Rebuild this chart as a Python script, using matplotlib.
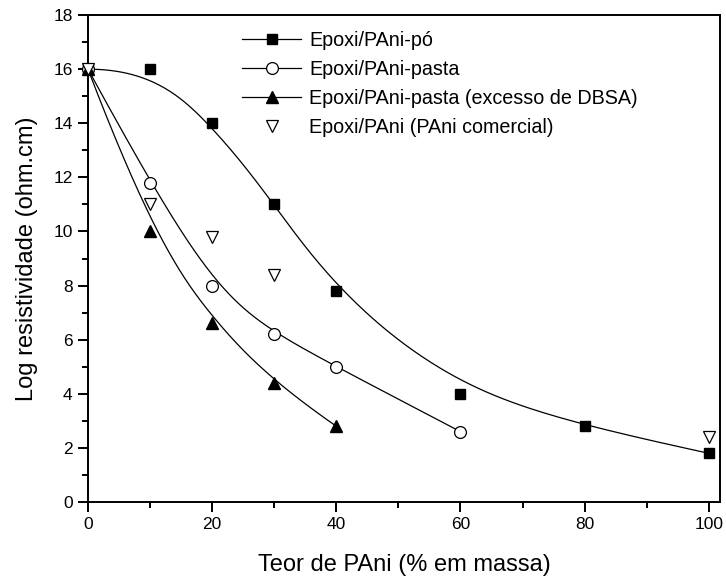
import numpy as np
import matplotlib.pyplot as plt
from matplotlib.ticker import MultipleLocator

plt.rcParams['font.family'] = ['Liberation Sans', 'DejaVu Sans']

# Teor de PAni (% em massa) vs log resistividade
x_po = [0, 10, 20, 30, 40, 60, 80, 100]
y_po = [16, 16, 14, 11, 7.8, 4, 2.8, 1.8]

x_pasta = [0, 10, 20, 30, 40, 60]
y_pasta = [16, 11.8, 8, 6.2, 5, 2.6]

x_dbsa = [0, 10, 20, 30, 40]
y_dbsa = [16, 10, 6.6, 4.4, 2.8]

x_com = [0, 10, 20, 30, 100]
y_com = [16, 11, 9.8, 8.4, 2.4]


def bspline(x, y, k=3, n=300):
    # clamped B-spline using the data points as control points
    P = np.column_stack([x, y]).astype(float)
    m = len(P)
    k = min(k, m - 1)
    inner = np.arange(1, m - k)
    t = np.concatenate([np.zeros(k + 1), inner, np.full(k + 1, m - k)]).astype(float)
    u = np.linspace(0, m - k, n)
    u[-1] -= 1e-9
    # Cox-de Boor recursion
    B = np.zeros((n, len(t) - 1))
    for i in range(len(t) - 1):
        B[:, i] = (u >= t[i]) & (u < t[i + 1])
    for d in range(1, k + 1):
        Bn = np.zeros((n, len(t) - 1 - d))
        for i in range(len(t) - 1 - d):
            a = 0.0
            if t[i + d] > t[i]:
                a = (u - t[i]) / (t[i + d] - t[i]) * B[:, i]
            b = 0.0
            if t[i + d + 1] > t[i + 1]:
                b = (t[i + d + 1] - u) / (t[i + d + 1] - t[i + 1]) * B[:, i + 1]
            Bn[:, i] = a + b
        B = Bn
    C = B @ P
    return C[:, 0], C[:, 1]


fig = plt.figure(figsize=(7.26, 5.8), dpi=100)
ax = fig.add_axes([0.1212, 0.1345, 0.8705, 0.8395])

lw = 0.9
for xd, yd in [(x_po, y_po), (x_pasta, y_pasta), (x_dbsa, y_dbsa)]:
    cx, cy = bspline(xd, yd)
    ax.plot(cx, cy, color='black', lw=lw)

ax.plot(x_po, y_po, ls='none', marker='s', ms=7.5, mfc='black', mec='black', clip_on=False, zorder=4)
ax.plot(x_pasta, y_pasta, ls='none', marker='o', ms=8.5, mfc='white', mec='black', mew=0.9, clip_on=False, zorder=4)
ax.plot(x_dbsa, y_dbsa, ls='none', marker='^', ms=9, mfc='black', mec='black', clip_on=False, zorder=4)
ax.plot(x_com, y_com, ls='none', marker='v', ms=9, mfc='white', mec='black', mew=0.9, clip_on=False, zorder=4)

# legend handles: line + marker
h1, = ax.plot([], [], color='black', lw=lw, marker='s', ms=7.5, mfc='black', mec='black')
h2, = ax.plot([], [], color='black', lw=lw, marker='o', ms=8.5, mfc='white', mec='black', mew=0.9)
h3, = ax.plot([], [], color='black', lw=lw, marker='^', ms=9, mfc='black', mec='black')
h4, = ax.plot([], [], ls='none', marker='v', ms=9, mfc='white', mec='black', mew=0.9)
ax.legend([h1, h2, h3, h4],
          ['Epoxi/PAni-pó', 'Epoxi/PAni-pasta', 'Epoxi/PAni-pasta (excesso de DBSA)',
           'Epoxi/PAni (PAni comercial)'],
          loc='upper left', bbox_to_anchor=(242 / 726, 1 - 31 / 580), bbox_transform=fig.transFigure,
          frameon=False, fontsize=14.2, handlelength=3.0, handletextpad=0.4,
          labelspacing=0.5, borderpad=0, borderaxespad=0)

ax.set_xlim(0, 101.8)
ax.set_ylim(0, 18)
ax.xaxis.set_major_locator(MultipleLocator(20))
ax.xaxis.set_minor_locator(MultipleLocator(10))
ax.yaxis.set_major_locator(MultipleLocator(2))
ax.yaxis.set_minor_locator(MultipleLocator(1))
ax.tick_params(which='major', direction='out', length=7, width=1.4, labelsize=12.5, pad=4)
ax.tick_params(which='minor', direction='out', length=4, width=1.4)
for s in ax.spines.values():
    s.set_linewidth(1.4)

ax.set_xlabel('Teor de PAni (% em massa)', fontsize=17, labelpad=16)
ax.set_ylabel('Log resistividade (ohm.cm)', fontsize=17, labelpad=11)

fig.savefig('out.png', dpi=100)
